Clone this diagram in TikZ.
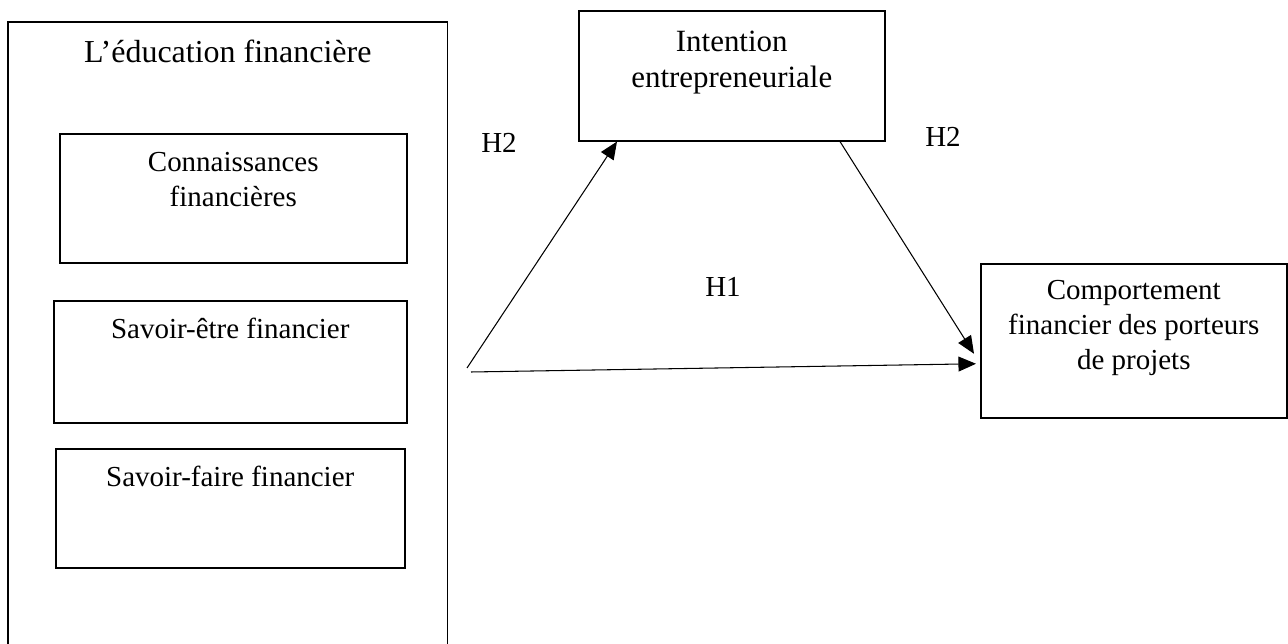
\documentclass[tikz,border=0pt]{standalone}
\usepackage{fontspec}
\setmainfont{Liberation Serif}
\usetikzlibrary{arrows.meta,calc}

\begin{document}
\begin{tikzpicture}[x=0.02cm,y=-0.02cm,
  box node/.style={rectangle,draw,line width=0.9pt,anchor=north west,inner sep=0pt},
  box text/.style={anchor=north,align=center,inner sep=0pt,font=\fontsize{16.5}{20}\selectfont},
  hyp node/.style={anchor=base,inner sep=0pt,font=\fontsize{16.5}{20}\selectfont},
  link/.style={line width=0.6pt,-{Triangle[length=10pt,width=8.5pt]}}]

  \useasboundingbox (0,0) rectangle (1288,644);

  % the big box on the left, open at the bottom of the page
  \node[box node,minimum width=8.8cm,minimum height=13.58cm,
    label={[box text,yshift=-0.38cm,font=\fontsize{18.2}{22}\selectfont]north:L’éducation financière}] (edu) at (7,21) {};
  \node[box node,minimum width=6.94cm,minimum height=2.58cm,
    label={[box text,yshift=-0.38cm]north:{Connaissances\\financières}}] (conn) at (59,133) {};
  \node[box node,minimum width=7.06cm,minimum height=2.44cm,
    label={[box text,yshift=-0.36cm]north:Savoir-être financier}] (etre) at (53,300) {};
  \node[box node,minimum width=6.98cm,minimum height=2.38cm,
    label={[box text,yshift=-0.36cm]north:Savoir-faire financier}] (faire) at (55,448) {};

  \node[box node,minimum width=6.12cm,minimum height=2.6cm,
    label={[box text,yshift=-0.42cm,font=\fontsize{17.6}{20.5}\selectfont]north:{Intention\\entrepreneuriale}}] (intent) at (578,10) {};
  \node[box node,minimum width=6.12cm,minimum height=3.08cm,
    label={[box text,yshift=-0.34cm]north:{Comportement\\financier des porteurs\\de projets}}] (comp) at (980,263) {};

  \coordinate (h2start) at (467,368);
  \coordinate (h1start) at (471,372);

  \draw [link] (h2start) to ($(intent.south west)+(39,0)$);
  \draw [link] ($(intent.south west)+(262,0)$) to ($(comp.west)+(-6,13)$);
  \draw [link] (h1start) to ($(comp.west)+(-4,23)$);

  \node[hyp node] (h2a) at (499,153) {H2};
  \node[hyp node] (h2b) at (943,147) {H2};
  \node[hyp node] (h1) at (723,297) {H1};
\end{tikzpicture}
\end{document}
